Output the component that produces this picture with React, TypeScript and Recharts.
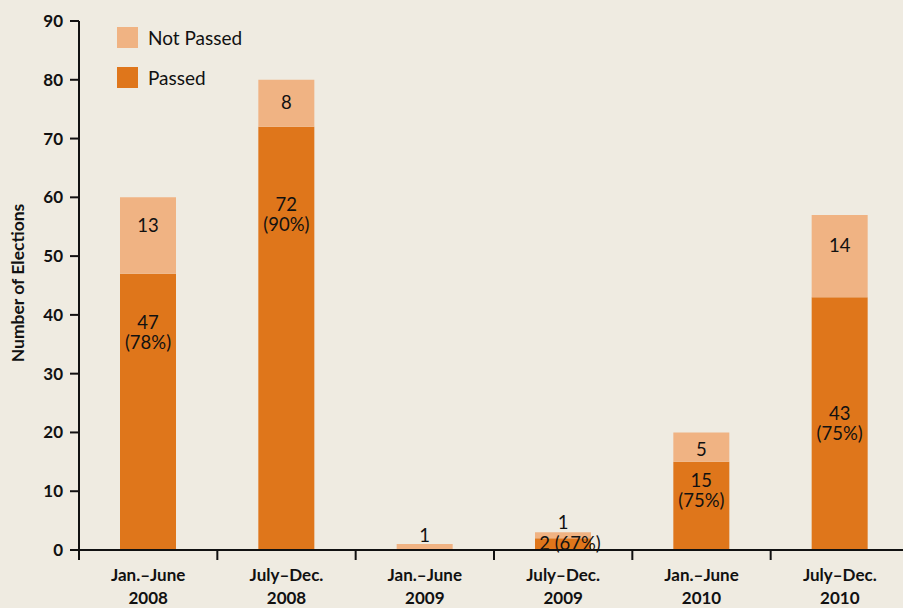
import React from "react";
import { Bar, BarChart, LabelList, XAxis, YAxis } from "recharts";

const periods = [
  ["Jan.–June", "2008"],
  ["July–Dec.", "2008"],
  ["Jan.–June", "2009"],
  ["July–Dec.", "2009"],
  ["Jan.–June", "2010"],
  ["July–Dec.", "2010"],
];
const passed = [47, 72, 0, 2, 15, 43];
const notPassed = [13, 8, 1, 1, 5, 14];
const yTicks = [0, 10, 20, 30, 40, 50, 60, 70, 80, 90];

// label placement (px from top of each segment)
const passedLabelDy = [48, 77, 0, 5, 18, 116];
const notPassedLabelDy = [28, 22, -9, -10, 17, 30];

const BG = "#efebe1";
const PASSED = "#df761b";
const NOT_PASSED = "#f0b383";
const FONT = "Lato, 'DejaVu Sans', sans-serif";
const PLOT_LEFT = 79;
const BAND = 830 / 6;

const data = periods.map((p, i) => ({
  key: p.join(" "),
  line1: p[0],
  line2: p[1],
  passed: passed[i],
  notPassed: notPassed[i],
}));

const idxOf = (x: number) => Math.floor((x - PLOT_LEFT) / BAND);

function XTick(props: any) {
  const { x, y } = props;
  const d = data[idxOf(x)];
  const bx = x - BAND / 2;
  if (!d) return null;
  return (
    <g>
      <line x1={bx} x2={bx} y1={y} y2={y + 10} stroke="#111" strokeWidth={2} />
      <text x={x} y={y + 31} textAnchor="middle" fontFamily={FONT} fontWeight={700} fontSize={17} fill="#111">
        {d.line1}
      </text>
      <text x={x} y={y + 54} textAnchor="middle" fontFamily={FONT} fontWeight={700} fontSize={17} fill="#111">
        {d.line2}
      </text>
    </g>
  );
}

function PassedLabel(props: any) {
  const { x, y, width, height } = props;
  const i = idxOf(x);
  const v = passed[i];
  if (!v) return null;
  const pct = Math.round((v / (v + notPassed[i])) * 100);
  const cx = x + width / 2;
  const cy = y + passedLabelDy[i];
  if (height < 30) {
    return (
      <text x={cx + 7} y={cy} textAnchor="middle" dominantBaseline="central" fontFamily={FONT} fontSize={18.5} fill="#111">
        {`${v} (${pct}%)`}
      </text>
    );
  }
  return (
    <g>
      <text x={cx} y={cy} textAnchor="middle" dominantBaseline="central" fontFamily={FONT} fontSize={18.5} fill="#111">
        {v}
      </text>
      <text x={cx} y={cy + 20} textAnchor="middle" dominantBaseline="central" fontFamily={FONT} fontSize={18.5} fill="#111">
        {`(${pct}%)`}
      </text>
    </g>
  );
}

function NotPassedLabel(props: any) {
  const { x, y, width } = props;
  const i = idxOf(x);
  const v = notPassed[i];
  if (!v) return null;
  return (
    <text
      x={x + width / 2}
      y={y + notPassedLabelDy[i]}
      textAnchor="middle"
      dominantBaseline="central"
      fontFamily={FONT}
      fontSize={18.5}
      fill="#111"
    >
      {v}
    </text>
  );
}

function LegendBox() {
  const items = [
    { name: "Not Passed", color: NOT_PASSED },
    { name: "Passed", color: PASSED },
  ];
  return (
    <div style={{ position: "absolute", left: 117, top: 27, fontFamily: FONT, fontSize: 19, color: "#111" }}>
      {items.map((it) => (
        <div key={it.name} style={{ display: "flex", alignItems: "center", height: 21, marginBottom: 19 }}>
          <span style={{ width: 21, height: 21, background: it.color, display: "inline-block", marginRight: 10 }} />
          <span>{it.name}</span>
        </div>
      ))}
    </div>
  );
}

export default function App() {
  return (
    <div
      style={{
        position: "absolute",
        left: 0,
        top: 0,
        width: 903,
        height: 608,
        background: BG,
        overflow: "hidden",
      }}
    >
      <BarChart
        width={910}
        height={608}
        data={data}
        margin={{ top: 21, right: 1, bottom: 0, left: 0 }}
      >
        <XAxis
          dataKey="key"
          height={58}
          tick={<XTick />}
          tickLine={false}
          tickSize={0}
          tickMargin={0}
          interval={0}
          axisLine={{ stroke: "#111", strokeWidth: 2 }}
        />
        <YAxis
          width={79}
          domain={[0, 90]}
          ticks={yTicks}
          interval={0}
          tickSize={9}
          tickMargin={7}
          tickLine={{ stroke: "#111", strokeWidth: 2 }}
          axisLine={{ stroke: "#111", strokeWidth: 2 }}
          tick={{ fontFamily: FONT, fontWeight: 700, fontSize: 17, fill: "#111" }}
          label={{
            content: () => (
              <text
                x={17}
                y={283}
                transform="rotate(-90 17 283)"
                textAnchor="middle"
                dominantBaseline="central"
                fontFamily={FONT}
                fontWeight={700}
                fontSize={17.5}
                fill="#111"
              >
                Number of Elections
              </text>
            ),
          }}
        />
        <Bar dataKey="passed" stackId="a" fill={PASSED} barSize={56} isAnimationActive={false}>
          <LabelList dataKey="passed" content={<PassedLabel />} />
        </Bar>
        <Bar dataKey="notPassed" stackId="a" fill={NOT_PASSED} barSize={56} isAnimationActive={false}>
          <LabelList dataKey="notPassed" content={<NotPassedLabel />} />
        </Bar>
      </BarChart>
      <LegendBox />
    </div>
  );
}
